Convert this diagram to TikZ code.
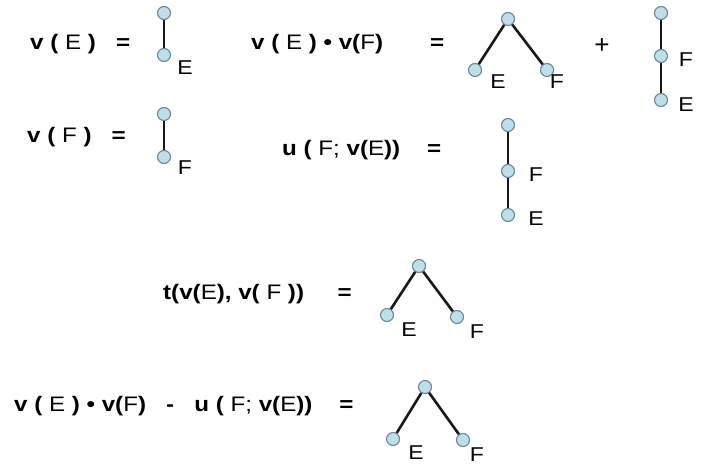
\documentclass[tikz,border=0pt]{standalone}
\usepackage{fontspec}
\setmainfont{Liberation Sans}
\usepackage{graphicx}
\usepackage{xcolor}
\usepackage{tikz}
\usetikzlibrary{positioning}

\definecolor{xanhnhat}{RGB}{190,222,232}
\definecolor{vien}{RGB}{105,135,150}
\newcommand{\rong}[1]{\scalebox{1.15}[1]{#1}}

\begin{document}
\begin{tikzpicture}[x=1pt, y=-1pt,
    dinh/.style={circle, draw=vien, fill=xanhnhat, line width=1.1pt, minimum size=13pt, inner sep=0pt},
    canh/.style={line width=2.6pt, black!90},
    chu/.style={anchor=west, inner sep=0pt, font=\fontsize{21}{24}\selectfont},
    nhan/.style={inner sep=0pt, font=\fontsize{20}{24}\selectfont}]
    % Khung hình
    \useasboundingbox (0,0) rectangle (703,465);

    % Các biểu thức bên trái
    \node[chu] (t1) at (30,44) {\rong{\textbf{v (} E \textbf{)\ \ \ =}}};
    \node[chu] (t2) at (251,44) {\rong{\textbf{v (} E \textbf{) • v(}F\textbf{)\ \ \ \ \ \ \ =}}};
    \node[nhan, font=\fontsize{26}{28}\selectfont] (cong) at (602,46) {+};
    \node[chu] (t3) at (27,137) {\rong{\textbf{v (} F \textbf{)\ \ \ =}}};
    \node[chu] (t4) at (282,150) {\rong{\textbf{u (} F; \textbf{v(}E\textbf{))\ \ \ \ =}}};
    \node[chu] (t5) at (163,294) {\rong{\textbf{t(v(}E\textbf{), v(}\ F\ \textbf{))\ \ \ \ \ =}}};
    \node[chu] (t6) at (14,406) {\rong{\textbf{v (} E \textbf{) • v(}F\textbf{)\ \ \ -\ \ \ u (} F; \textbf{v(}E\textbf{))\ \ \ \ =}}};

    % Cây v(E)
    \node[dinh] (a1) at (164,13) {};
    \node[dinh] (a2) at (164,55) {};
    \draw[canh] (a1) -- (a2);
    \node[nhan] (la) at (185,68) {\rong{E}};

    % Cây v(E).v(F): hai nhánh
    \node[dinh] (b1) at (508,19) {};
    \node[dinh] (b2) at (475,70) {};
    \node[dinh] (b3) at (547,70) {};
    \draw[canh] (b2) -- (b1) -- (b3);
    \node[nhan] (lb2) at (498,82) {\rong{E}};
    \node[nhan] (lb3) at (557,82) {\rong{F}};

    % Cây dạng chuỗi bên phải
    \node[dinh] (c1) at (661,13) {};
    \node[dinh] (c2) at (661,56) {};
    \node[dinh] (c3) at (661,100) {};
    \draw[canh] (c1) -- (c2) -- (c3);
    \node[nhan] (lc2) at (686,60) {\rong{F}};
    \node[nhan] (lc3) at (686,105) {\rong{E}};

    % Cây v(F)
    \node[dinh] (d1) at (164,114) {};
    \node[dinh] (d2) at (164,157) {};
    \draw[canh] (d1) -- (d2);
    \node[nhan] (ld) at (185,168) {\rong{F}};

    % Cây u(F; v(E))
    \node[dinh] (e1) at (508,125) {};
    \node[dinh] (e2) at (508,171) {};
    \node[dinh] (e3) at (508,215) {};
    \draw[canh] (e1) -- (e2) -- (e3);
    \node[nhan] (le2) at (536,175) {\rong{F}};
    \node[nhan] (le3) at (536,219) {\rong{E}};

    % Cây t(v(E), v(F))
    \node[dinh] (f1) at (419,266) {};
    \node[dinh] (f2) at (387,315) {};
    \node[dinh] (f3) at (457,317) {};
    \draw[canh] (f2) -- (f1) -- (f3);
    \node[nhan] (lf2) at (409,330) {\rong{E}};
    \node[nhan] (lf3) at (477,332) {\rong{F}};

    % Cây kết quả cuối
    \node[dinh] (h1) at (425,387) {};
    \node[dinh] (h2) at (393,439) {};
    \node[dinh] (h3) at (463,440) {};
    \draw[canh] (h2) -- (h1) -- (h3);
    \node[nhan] (lh2) at (416,453) {\rong{E}};
    \node[nhan] (lh3) at (477,455) {\rong{F}};
\end{tikzpicture}
\end{document}
